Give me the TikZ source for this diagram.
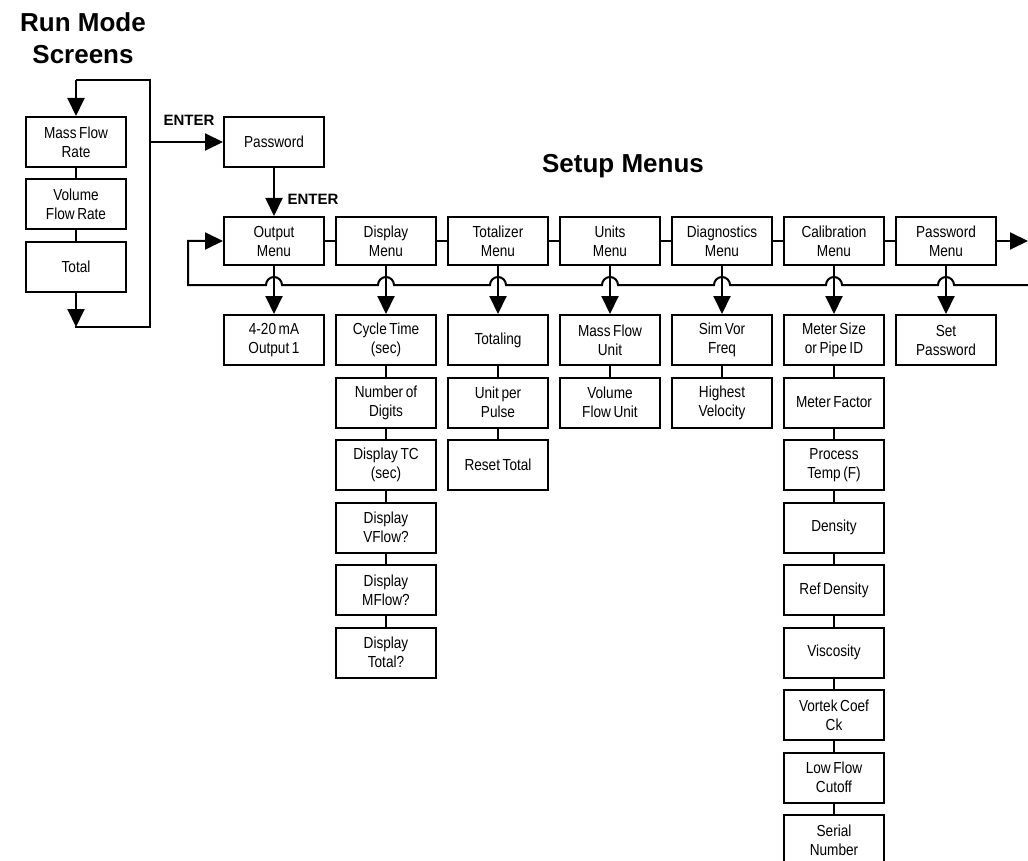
\documentclass[tikz,border=0pt]{standalone}
\usepackage{fontspec}
\setmainfont{Liberation Sans}
\newfontfamily\boxfont[FakeStretch=0.85,WordSpace=0.7]{Liberation Sans}
\usetikzlibrary{arrows.meta}
\begin{document}
\begin{tikzpicture}[x=1pt,y=-1pt,
  bx/.style={draw,line width=2pt,minimum width=100pt,minimum height=50pt,inner sep=0pt,align=center,font=\boxfont\fontsize{16}{19}\selectfont},
  mn/.style={bx,minimum height=48pt},
  ln/.style={line width=2pt},
  arr/.style={line width=2pt,-{Triangle[width=17pt,length=18pt]}},
  ttl/.style={font=\bfseries\fontsize{26}{32}\selectfont,anchor=base,inner sep=0pt},
  lbl/.style={font=\bfseries\fontsize{15}{18}\selectfont,anchor=base,inner sep=0pt}]
\useasboundingbox (0,0) rectangle (1028,861);

% titles
\node[ttl] (t1) at (83,32) {Run Mode};
\node[ttl] (t2) at (83,64) {Screens};
\node[ttl] (t3) at (623,173) {Setup Menus};
\node[lbl] (e1) at (189,126) {ENTER};
\node[lbl] (e2) at (313,205) {ENTER};

% run mode screens
\node[bx] (mfr) at (76,142) {Mass Flow\\Rate};
\node[bx] (vfr) at (76,204.5) {Volume\\Flow Rate};
\node[bx] (tot) at (76,267) {Total};
\node[bx] (pw) at (274,142) {Password};

% menus
\node[mn] (om) at (274,241) {Output\\Menu};
\node[mn] (dm) at (386,241) {Display\\Menu};
\node[mn] (tm) at (498,241) {Totalizer\\Menu};
\node[mn] (um) at (610,241) {Units\\Menu};
\node[mn] (gm) at (722,241) {Diagnostics\\Menu};
\node[mn] (cm) at (834,241) {Calibration\\Menu};
\node[mn] (pm) at (946,241) {Password\\Menu};

% children
\node[bx] (o1) at (274,340) {4-20 mA\\Output 1};

\node[bx] (d1) at (386,340) {Cycle Time\\(sec)};
\node[bx] (d2) at (386,402.5) {Number of\\Digits};
\node[bx] (d3) at (386,465) {Display TC\\(sec)};
\node[bx] (d4) at (386,527.5) {Display\\VFlow?};
\node[bx] (d5) at (386,590) {Display\\MFlow?};
\node[bx] (d6) at (386,652.5) {Display\\Total?};

\node[bx] (tt1) at (498,340) {Totaling};
\node[bx] (tt2) at (498,402.5) {Unit per\\Pulse};
\node[bx] (tt3) at (498,465) {Reset Total};

\node[bx] (u1) at (610,340) {Mass Flow\\Unit};
\node[bx] (u2) at (610,402.5) {Volume\\Flow Unit};

\node[bx] (g1) at (722,340) {Sim Vor\\Freq};
\node[bx] (g2) at (722,402.5) {Highest\\Velocity};

\node[bx] (c1) at (834,340) {Meter Size\\or Pipe ID};
\node[bx] (c2) at (834,402.5) {Meter Factor};
\node[bx] (c3) at (834,465) {Process\\Temp (F)};
\node[bx] (c4) at (834,527.5) {Density};
\node[bx] (c5) at (834,590) {Ref Density};
\node[bx] (c6) at (834,652.5) {Viscosity};
\node[bx] (c7) at (834,715) {Vortek Coef\\Ck};
\node[bx] (c8) at (834,777.5) {Low Flow\\Cutoff};
\node[bx,line width=1.2pt] (c9) at (834,840) {Serial\\Number};

\node[bx] (p1) at (946,340) {Set\\Password};

% run mode loop
\coordinate (lb) at (76,327);
\coordinate (rb) at (150,327);
\coordinate (rt) at (150,80);
\coordinate (lt) at (76,80);
\coordinate (ej) at (150,142);
\draw[ln] (mfr) -- (vfr);
\draw[ln] (vfr) -- (tot);
\draw[arr] (tot.south) -- (lb);
\draw[ln] ([xshift=-1pt]lb) -- (rb) -- (rt) -- (lt);
\draw[arr] ([xshift=0pt]lt) -- (mfr.north);
\draw[arr] (ej) -- (pw.west);
\draw[arr] (pw.south) -- (om.north);

% menu chain
\draw[ln] (om.east) -- (dm.west);
\draw[ln] (dm.east) -- (tm.west);
\draw[ln] (tm.east) -- (um.west);
\draw[ln] (um.east) -- (gm.west);
\draw[ln] (gm.east) -- (cm.west);
\draw[ln] (cm.east) -- (pm.west);
\coordinate (re) at (1028,241);
\draw[arr] (pm.east) -- (re);

% loop-back line with hops
\coordinate (lr) at (1030,285);
\coordinate (ll) at (188,285);
\draw[arr] (lr) -- (954,285) arc[start angle=0,end angle=180,radius=8pt]
  -- (842,285) arc[start angle=0,end angle=180,radius=8pt]
  -- (730,285) arc[start angle=0,end angle=180,radius=8pt]
  -- (618,285) arc[start angle=0,end angle=180,radius=8pt]
  -- (506,285) arc[start angle=0,end angle=180,radius=8pt]
  -- (394,285) arc[start angle=0,end angle=180,radius=8pt]
  -- (282,285) arc[start angle=0,end angle=180,radius=8pt]
  -- (ll) |- (om.west);

% menu to child arrows
\draw[arr] (om.south) -- (o1.north);
\draw[arr] (dm.south) -- (d1.north);
\draw[arr] (tm.south) -- (tt1.north);
\draw[arr] (um.south) -- (u1.north);
\draw[arr] (gm.south) -- (g1.north);
\draw[arr] (cm.south) -- (c1.north);
\draw[arr] (pm.south) -- (p1.north);

% column chains
\foreach \a/\b in {d1/d2,d2/d3,d3/d4,d4/d5,d5/d6,tt1/tt2,tt2/tt3,u1/u2,g1/g2,c1/c2,c2/c3,c3/c4,c4/c5,c5/c6,c6/c7,c7/c8,c8/c9}
  \draw[ln] (\a.south) -- (\b.north);
\end{tikzpicture}
\end{document}
